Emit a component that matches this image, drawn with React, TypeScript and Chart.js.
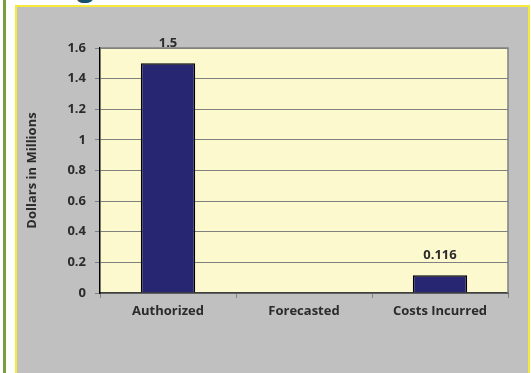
import React, { useEffect, useRef } from "react";
import { Chart, registerables } from "chart.js";

Chart.register(...registerables);

const categories = ["Authorized", "Forecasted", "Costs Incurred"];
const values: (number | null)[] = [1.5, null, 0.116];
const valueLabels = ["1.5", "", "0.116"];
const yTitle = "Dollars in Millions";
const yMin = 0;
const yMax = 1.6;
const yStep = 0.2;

const FONT = "'Open Sans', Lato, sans-serif";
const TEXT = "#2b2b2b";
const FS = 13;

const plotBg = {
  id: "plotBg",
  beforeDraw(chart: any) {
    const { ctx, chartArea: a } = chart;
    ctx.save();
    ctx.fillStyle = "#FDF9CF";
    ctx.fillRect(a.left, a.top, a.right - a.left, a.bottom - a.top);
    ctx.restore();
  },
  afterDraw(chart: any) {
    const { ctx, chartArea: a } = chart;
    ctx.save();
    ctx.strokeStyle = "#808080";
    ctx.lineWidth = 1.5;
    ctx.beginPath();
    ctx.moveTo(a.left, a.top);
    ctx.lineTo(a.right, a.top);
    ctx.lineTo(a.right, a.bottom);
    ctx.stroke();
    ctx.restore();
  },
};

const valueLabelPlugin = {
  id: "valueLabels",
  afterDatasetsDraw(chart: any) {
    const { ctx } = chart;
    const meta = chart.getDatasetMeta(0);
    ctx.save();
    ctx.font = `bold ${FS}px ${FONT}`;
    ctx.fillStyle = TEXT;
    ctx.textAlign = "center";
    ctx.textBaseline = "middle";
    meta.data.forEach((bar: any, i: number) => {
      if (values[i] === null || !valueLabels[i]) return;
      ctx.fillText(valueLabels[i], bar.x, bar.y - 20);
    });
    ctx.restore();
  },
};

export default function App() {
  const ref = useRef<HTMLCanvasElement>(null);
  useEffect(() => {
    if (!ref.current) return;
    const chart = new Chart(ref.current, {
      type: "bar",
      data: {
        labels: categories,
        datasets: [
          {
            data: values as any,
            backgroundColor: "#262673",
            borderColor: "#000000",
            borderWidth: 1.5,
            barPercentage: 0.4,
            categoryPercentage: 1,
          },
        ],
      },
      options: {
        animation: false,
        responsive: false,
        maintainAspectRatio: false,
        layout: { padding: { left: 0, right: 19, top: 41, bottom: 50 } },
        plugins: {
          legend: { display: false },
          tooltip: { enabled: false },
        },
        scales: {
          x: {
            grid: {
              offset: true,
              drawOnChartArea: false,
              drawTicks: true,
              tickLength: 5,
              color: "#808080",
            },
            border: { color: "#404040", width: 1.5 },
            ticks: {
              color: TEXT,
              font: { family: FONT, size: FS, weight: "bold" },
              padding: 5,
            },
            afterFit(scale: any) {
              scale.height = 30;
            },
          },
          y: {
            min: yMin,
            max: yMax,
            ticks: {
              stepSize: yStep,
              color: TEXT,
              font: { family: FONT, size: FS, weight: "bold" },
              padding: 9,
              callback: (v: any) => String(Math.round(Number(v) * 10) / 10),
            },
            grid: {
              color: "#808080",
              tickLength: 5,
              lineWidth: 1,
            },
            border: { color: "#000000", width: 1.5 },
            title: {
              display: true,
              text: yTitle,
              color: TEXT,
              font: { family: FONT, size: FS, weight: "bold" },
              padding: { top: 7, bottom: 0 },
            },
            afterFit(scale: any) {
              scale.width = 83;
            },
          },
        },
      },
      plugins: [plotBg, valueLabelPlugin],
    });
    return () => chart.destroy();
  }, []);

  return (
    <div
      style={{
        position: "fixed",
        left: 0,
        top: 0,
        width: 531,
        height: 373,
        background: "#ffffff",
        overflow: "hidden",
      }}
    >
      <div
        style={{
          position: "absolute",
          left: 3,
          top: 0,
          width: 3,
          height: 373,
          background: "#7A9E3E",
        }}
      />
      <div
        style={{
          position: "absolute",
          left: 77,
          top: -30,
          fontFamily: FONT,
          fontWeight: "bold",
          fontSize: 30,
          lineHeight: "30px",
          color: "#17506B",
        }}
      >
        g
      </div>
      <div
        style={{
          position: "absolute",
          left: 15,
          top: 5,
          width: 515,
          height: 380,
          boxSizing: "border-box",
          border: "2px solid #F5E93A",
          background: "#C0C0C0",
        }}
      />
      <canvas
        ref={ref}
        width={510}
        height={366}
        style={{ position: "absolute", left: 17, top: 7, width: 510, height: 366 }}
      />
    </div>
  );
}
